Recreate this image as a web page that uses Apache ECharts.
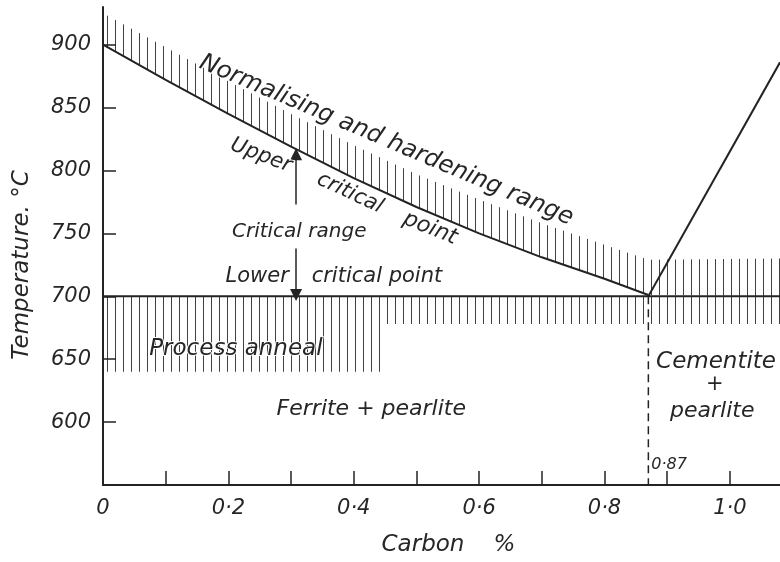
<!DOCTYPE html>
<html>
<head>
<meta charset="utf-8">
<script src="https://cdn.jsdelivr.net/npm/echarts@6/dist/echarts.min.js"></script>
<style>
html, body { margin: 0; padding: 0; background: #fff; }
#chart { width: 780px; height: 562px; }
</style>
</head>
<body>
<div id="chart"></div>
<script>
// upper critical point (A3) line, carbon % vs temperature
const carbon = [0, 0.1, 0.2, 0.3, 0.4, 0.5, 0.6, 0.7, 0.8, 0.87];
const upperCritical = [900, 872, 845, 819, 794, 771, 750, 731, 714, 701];
// Acm line from the eutectoid point
const acmCarbon = [0.87, 1.08];
const acmTemp = [700, 886];
const lowerCritical = 700;
const eutectoid = 0.87;
const carbonMax = 1.08;
const tempMin = 550, tempMax = 930;

const xTicks = [0.1, 0.2, 0.3, 0.4, 0.5, 0.6, 0.7, 0.8, 0.9, 1.0];
const xLabels = [0, 0.2, 0.4, 0.6, 0.8, 1.0];
const yTicks = [600, 650, 700, 750, 800, 850, 900];

// hatched bands
const normCarbon = [0, 0.1, 0.2, 0.3, 0.4, 0.5, 0.6, 0.7, 0.8, 0.87, 1.08];
const normLow = [900, 872, 845, 819, 794, 771, 750, 731, 714, 701, 700];
const normHigh = [925, 898, 871, 845, 820, 797, 777, 758, 741, 729, 730];
const annealCarbon = [0, 0.45, 0.45, 1.08];
const annealLow = [640, 640, 678, 678];
const annealHigh = [700, 700, 700, 700];

// arrows either side of "Critical range"
const arrowCarbon = [0.308, 0.308];
const arrowFrom = [773, 738];
const arrowTo = [813, 701];

// text notes
const noteText = ['Normalising and hardening range', 'Upper', 'critical', 'point',
  'Critical range', 'Lower', 'critical point', 'Process anneal', 'Ferrite + pearlite',
  'Cementite', '+', 'pearlite', '0·87'];
const noteCarbon = [0.452, 0.252, 0.394, 0.522, 0.313, 0.246, 0.437, 0.212, 0.428, 0.978, 0.976, 0.972, 0.903];
const noteTemp = [824, 812, 782, 754, 751, 716, 716, 658, 610, 648, 630, 609, 566];
const noteAngle = [-23, -21, -25, -22, 0, 0, 0, 0, 0, 0, 0, 0, 0];
const noteSize = [24, 21, 21, 22, 20, 21, 21, 23, 22, 23, 21, 22, 16];

const ink = '#232323';
const textInk = '#262626';
const font = 'DejaVu Sans';

// vertical hatch texture
const hatch = document.createElement('canvas');
hatch.width = 8; hatch.height = 4;
const hg = hatch.getContext('2d');
hg.fillStyle = 'rgba(30,30,30,0.85)';
hg.fillRect(3, 0, 1, 4);

const bands = [
  { c: normCarbon, lo: normLow, hi: normHigh },
  { c: annealCarbon, lo: annealLow, hi: annealHigh }
];

function fmtCarbon(v) {
  if (v === 0) return '0';
  return v.toFixed(1).replace('.', '·');
}

const myChart = echarts.init(document.getElementById('chart'));
const option = {
  backgroundColor: '#fff',
  animation: false,
  grid: { left: 103, right: 0, top: 7, bottom: 76 },
  xAxis: {
    type: 'value', min: 0, max: carbonMax,
    splitLine: { show: false },
    axisLine: { lineStyle: { color: ink, width: 2 } },
    axisTick: { inside: true, length: 14, customValues: xTicks, lineStyle: { color: ink, width: 1.5 } },
    axisLabel: {
      customValues: xLabels, margin: 13, color: textInk,
      fontFamily: font, fontStyle: 'italic', fontSize: 21,
      formatter: fmtCarbon
    },
    name: 'Carbon    %', nameLocation: 'middle', nameGap: 49,
    nameTextStyle: { fontFamily: font, fontStyle: 'italic', fontSize: 23, color: textInk, padding: [0, 0, 0, 14] }
  },
  yAxis: {
    type: 'value', min: tempMin, max: tempMax,
    splitLine: { show: false },
    axisLine: { lineStyle: { color: ink, width: 2 } },
    axisTick: { inside: true, length: 13, customValues: yTicks, lineStyle: { color: ink, width: 1.5 } },
    axisLabel: {
      customValues: yTicks, margin: 12, color: textInk,
      fontFamily: font, fontStyle: 'italic', fontSize: 21
    },
    name: 'Temperature. °C', nameLocation: 'middle', nameGap: 69,
    nameTextStyle: { fontFamily: font, fontStyle: 'italic', fontSize: 23, color: textInk, padding: [0, 38, 0, 0] }
  },
  series: [
    {
      type: 'custom', silent: true, clip: true, z: 1,
      data: bands.map((b, i) => [i]),
      renderItem: function (params, api) {
        const b = bands[params.dataIndex];
        const pts = [];
        b.c.forEach((c, i) => pts.push(api.coord([c, b.hi[i]])));
        for (let i = b.c.length - 1; i >= 0; i--) pts.push(api.coord([b.c[i], b.lo[i]]));
        return { type: 'polygon', shape: { points: pts }, style: { fill: { image: hatch, repeat: 'repeat' } } };
      }
    },
    {
      type: 'line', z: 3, showSymbol: false,
      lineStyle: { color: ink, width: 2 },
      data: carbon.map((c, i) => [c, upperCritical[i]])
    },
    {
      type: 'line', z: 3, showSymbol: false,
      lineStyle: { color: ink, width: 2 },
      data: acmCarbon.map((c, i) => [c, acmTemp[i]])
    },
    {
      type: 'line', z: 3, showSymbol: false,
      lineStyle: { color: ink, width: 2 },
      data: [[0, lowerCritical], [carbonMax, lowerCritical]]
    },
    {
      type: 'line', z: 3, showSymbol: false,
      lineStyle: { color: ink, width: 1.5, type: [8, 5] },
      data: [[eutectoid, lowerCritical], [eutectoid, tempMin]]
    },
    {
      type: 'lines', coordinateSystem: 'cartesian2d', z: 3, silent: true,
      symbol: ['none', 'triangle'], symbolSize: [7, 12],
      lineStyle: { color: ink, width: 1.5, opacity: 1 },
      data: arrowCarbon.map((c, i) => ({ coords: [[c, arrowFrom[i]], [c, arrowTo[i]]] }))
    },
    {
      type: 'scatter', symbolSize: 0, silent: true, z: 5,
      itemStyle: { opacity: 1 },
      label: {
        show: true, position: 'inside', fontFamily: font, fontStyle: 'italic',
        color: textInk, textBorderColor: '#fff', textBorderWidth: 2
      },
      data: noteText.map((t, i) => ({
        value: [noteCarbon[i], noteTemp[i]],
        label: { formatter: t, rotate: noteAngle[i], fontSize: noteSize[i] }
      }))
    }
  ]
};
myChart.setOption(option);
</script>
</body>
</html>
